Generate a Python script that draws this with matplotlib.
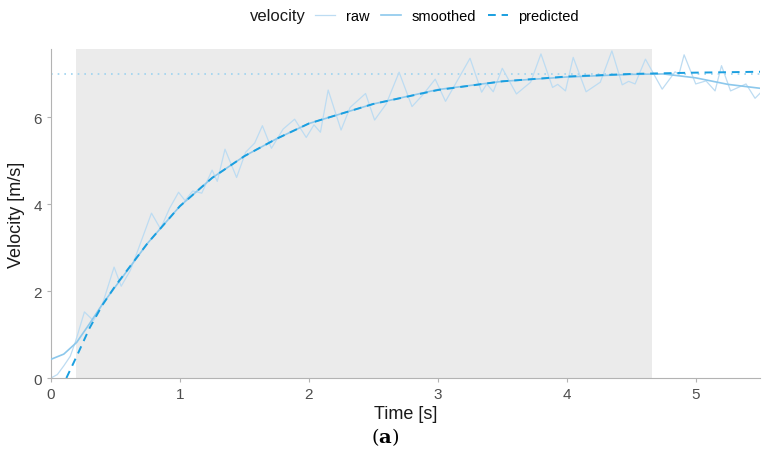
import matplotlib.pyplot as plt

plt.rcParams["font.family"] = ["Liberation Sans", "DejaVu Sans"]
plt.rcParams["mathtext.fontset"] = "dejavuserif"

# raw velocity readings (time [s], velocity [m/s])
raw_t = [0.0, 0.05, 0.1, 0.15, 0.19, 0.26, 0.33, 0.4, 0.49, 0.545, 0.615, 0.65,
         0.78, 0.85, 0.92, 0.99, 1.04, 1.1, 1.17, 1.25, 1.29, 1.35, 1.44, 1.51,
         1.58, 1.64, 1.71, 1.8, 1.89, 1.98, 2.04, 2.09, 2.15, 2.25, 2.32, 2.44,
         2.51, 2.6, 2.7, 2.8, 2.89, 2.98, 3.06, 3.25, 3.34, 3.38, 3.43, 3.5,
         3.61, 3.72, 3.8, 3.89, 3.93, 3.99, 4.05, 4.15, 4.26, 4.35, 4.43, 4.48,
         4.53, 4.61, 4.74, 4.84, 4.87, 4.91, 5.0, 5.08, 5.15, 5.2, 5.27, 5.39,
         5.46, 5.5]
raw_v = [0.0, 0.08, 0.28, 0.5, 0.83, 1.52, 1.32, 1.7, 2.55, 2.11, 2.47, 2.74,
         3.79, 3.43, 3.9, 4.27, 4.08, 4.3, 4.25, 4.78, 4.52, 5.26, 4.61, 5.19,
         5.4, 5.8, 5.28, 5.72, 5.95, 5.53, 5.82, 5.65, 6.62, 5.7, 6.22, 6.54,
         5.93, 6.3, 7.03, 6.24, 6.53, 6.87, 6.36, 7.35, 6.57, 6.76, 6.58, 7.12,
         6.53, 6.8, 7.45, 6.68, 6.75, 6.6, 7.37, 6.58, 6.8, 7.52, 6.74, 6.82,
         6.76, 7.33, 6.64, 7.04, 6.98, 7.43, 6.76, 6.83, 6.6, 7.18, 6.6, 6.76,
         6.43, 6.55]

smooth_t = [0.0, 0.1, 0.2, 0.3, 0.4, 0.5, 0.75, 1.0, 1.25, 1.5, 1.75, 2.0,
            2.5, 3.0, 3.5, 4.0, 4.5, 4.75, 5.0, 5.25, 5.5]
smooth_v = [0.43, 0.55, 0.82, 1.25, 1.7, 2.1, 3.1, 3.95, 4.6, 5.1, 5.5, 5.85,
            6.3, 6.63, 6.82, 6.92, 6.98, 6.99, 6.9, 6.75, 6.66]

pred_t = [0.12, 0.2, 0.3, 0.4, 0.5, 0.75, 1.0, 1.25, 1.5, 1.75, 2.0, 2.5,
          3.0, 3.5, 4.0, 4.5, 5.0, 5.5]
pred_v = [0.0, 0.5, 1.15, 1.68, 2.12, 3.1, 3.95, 4.6, 5.1, 5.5, 5.85, 6.3,
          6.62, 6.82, 6.93, 6.99, 7.02, 7.04]

target_v = 6.98
window_start, window_end = 0.195, 4.66

fig = plt.figure(figsize=(7.71, 4.60), dpi=100)
ax = fig.add_axes([0.066, 0.176, 0.920, 0.715])

ax.axvspan(window_start, window_end, color="#ebebeb", lw=0, zorder=0)
ax.axhline(target_v, color="#9dd3f0", ls=(0, (1, 3)), lw=1.2, zorder=1)

l_raw, = ax.plot(raw_t, raw_v, color="#bddcf2", lw=0.9, label="raw", zorder=2)
l_smooth, = ax.plot(smooth_t, smooth_v, color="#8cc8ec", lw=1.2, label="smoothed", zorder=3)
l_pred, = ax.plot(pred_t, pred_v, color="#1a9fe0", lw=1.4, ls=(0, (4, 3)), label="predicted", zorder=4)

ax.set_xlim(0, 5.5)
ax.set_ylim(0, 7.56)
ax.set_xticks([0, 1, 2, 3, 4, 5])
ax.set_yticks([0, 2, 4, 6])
for side in ["top", "right"]:
    ax.spines[side].set_visible(False)
for side in ["left", "bottom"]:
    ax.spines[side].set_color("#b3b3b3")
    ax.spines[side].set_linewidth(0.8)
ax.tick_params(colors="#b3b3b3", labelcolor="#4d4d4d", labelsize=11, length=3, width=0.8)

ax.set_xlabel("Time [s]", fontsize=13, color="#1a1a1a", labelpad=3)
ax.set_ylabel("Velocity [m/s]", fontsize=13, color="#1a1a1a", labelpad=6)

fig.text(250 / 771, 1 - 17 / 460, "velocity", fontsize=12, color="#1a1a1a",
         ha="left", va="center")
fig.legend(handles=[l_raw, l_smooth, l_pred], loc="center left",
           bbox_to_anchor=(315 / 771, 1 - 17 / 460), ncol=3, frameon=False,
           fontsize=10.5, handlelength=1.4, columnspacing=0.8, handletextpad=0.7,
           borderpad=0, borderaxespad=0)

fig.text(0.5, 1 - 437 / 460, r"($\mathbf{a}$)", fontsize=14, ha="center",
         va="center", family="DejaVu Serif")

fig.savefig("out.png", dpi=100)
